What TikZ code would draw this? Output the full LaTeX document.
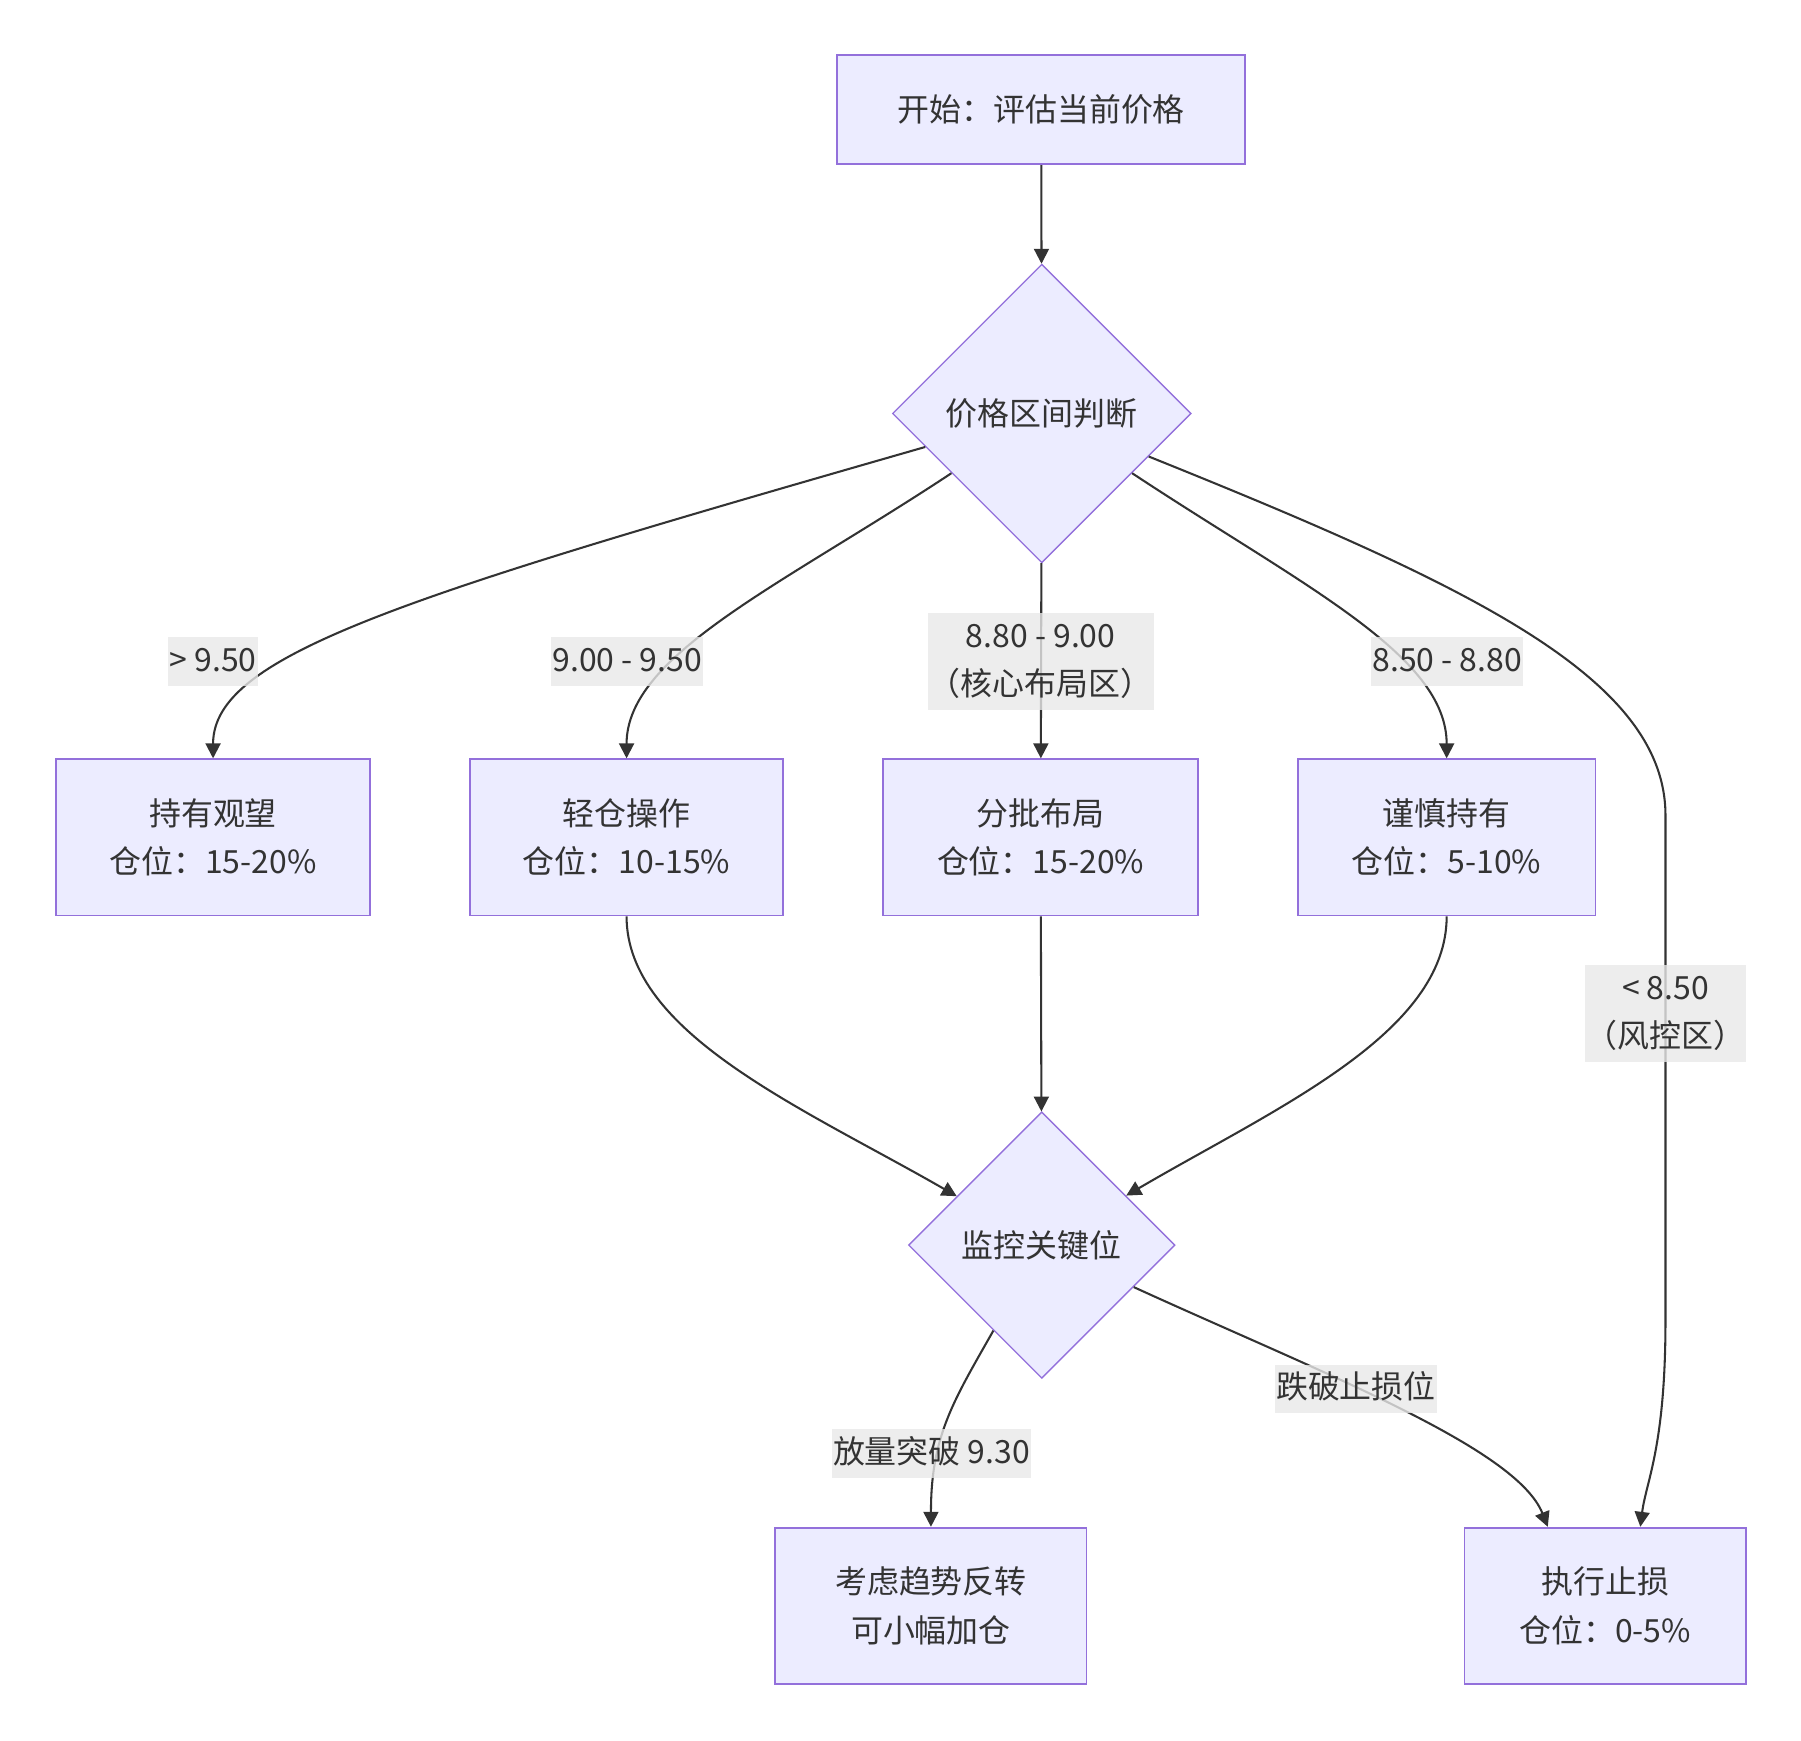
\documentclass[tikz,border=0pt]{standalone}
\usepackage{fontspec}
\setmainfont{Noto Sans CJK SC}
\usetikzlibrary{shapes.geometric,arrows.meta}
\definecolor{boxfill}{HTML}{ECECFF}
\definecolor{boxline}{HTML}{9370DB}
\definecolor{inkgray}{HTML}{333333}
\definecolor{lblgray}{HTML}{E8E8E8}

\begin{document}
\begin{tikzpicture}[x=0.5pt,y=0.5pt,yscale=-1,
    every node/.style={text=inkgray,font=\fontsize{13.9pt}{21pt}\selectfont},
    box/.style={draw=boxline,fill=boxfill,line width=0.75pt,align=center,minimum height=68pt,inner sep=0pt},
    choice/.style={diamond,aspect=1,draw=boxline,fill=boxfill,line width=0.6pt,inner sep=0pt},
    lbl/.style={fill=lblgray,fill opacity=0.8,text opacity=1,align=center,inner xsep=0.5pt,inner ysep=0pt,
        execute at end node=\strut},
    flow/.style={draw=inkgray,line width=0.9pt,-{Triangle[length=6.5pt,width=6.5pt]}}]
    \useasboundingbox (0,0) rectangle (1568,1515);

    % Nodes
    \node[box,minimum width=177.5pt,minimum height=47.5pt] (start) at (906.5,95.5) {开始：评估当前价格};
    \node[choice,minimum size=130pt] (judge) at (907,360) {价格区间判断};
    \node[box,minimum width=136.5pt] (hold) at (185.5,729) {持有观望\\仓位：15-20\%};
    \node[box,minimum width=136.5pt] (light) at (545.5,729) {轻仓操作\\仓位：10-15\%};
    \node[box,minimum width=137pt] (batch) at (906,729) {分批布局\\仓位：15-20\%};
    \node[box,minimum width=129.5pt] (careful) at (1259.5,729) {谨慎持有\\仓位：5-10\%};
    \node[choice,minimum size=116pt] (watch) at (907,1084) {监控关键位};
    \node[box,minimum width=135.5pt] (reverse) at (810.5,1398) {考虑趋势反转\\可小幅加仓};
    \node[box,minimum width=122.5pt] (stop) at (1397.5,1398) {执行止损\\仓位：0-5\%};

    % Edges
    \draw[flow] (start) -- (judge);
    \draw[flow] (judge) .. controls (350,520) and (185.5,570) .. (hold);
    \draw[flow] (judge) .. controls (680,510) and (545.5,570) .. (light);
    \draw[flow] (judge) -- (batch);
    \draw[flow] (judge) .. controls (1134,510) and (1259.5,570) .. (careful);
    \draw[flow] (judge) .. controls (1280,510) and (1450,590) .. (1450,710) -- (1450,1150)
        .. controls (1450,1260) and (1433,1290) .. (stop.66);
    \draw[flow] (light) .. controls (545.5,900) and (700,965) .. (watch);
    \draw[flow] (batch) -- (watch);
    \draw[flow] (careful) .. controls (1259.5,900) and (1110,965) .. (watch);
    \draw[flow] (watch) .. controls (830,1220) and (810.5,1250) .. (reverse);
    \draw[flow] (watch) .. controls (1150,1195) and (1320,1260) .. (stop.126);

    % Edge labels
    \node[lbl] (gt950) at (185.5,576) {> 9.50};
    \node[lbl] (r900) at (546,576) {9.00 - 9.50};
    \node[lbl] (r880) at (906,576) {\strut 8.80 - 9.00\\（核心布局区）};
    \node[lbl] (r850) at (1260,576) {8.50 - 8.80};
    \node[lbl] (lt850) at (1450,882.5) {\strut < 8.50\\（风控区）};
    \node[lbl] (breakup) at (811,1265.5) {放量突破 9.30};
    \node[lbl] (breakdown) at (1180.5,1209.5) {跌破止损位};
\end{tikzpicture}
\end{document}
